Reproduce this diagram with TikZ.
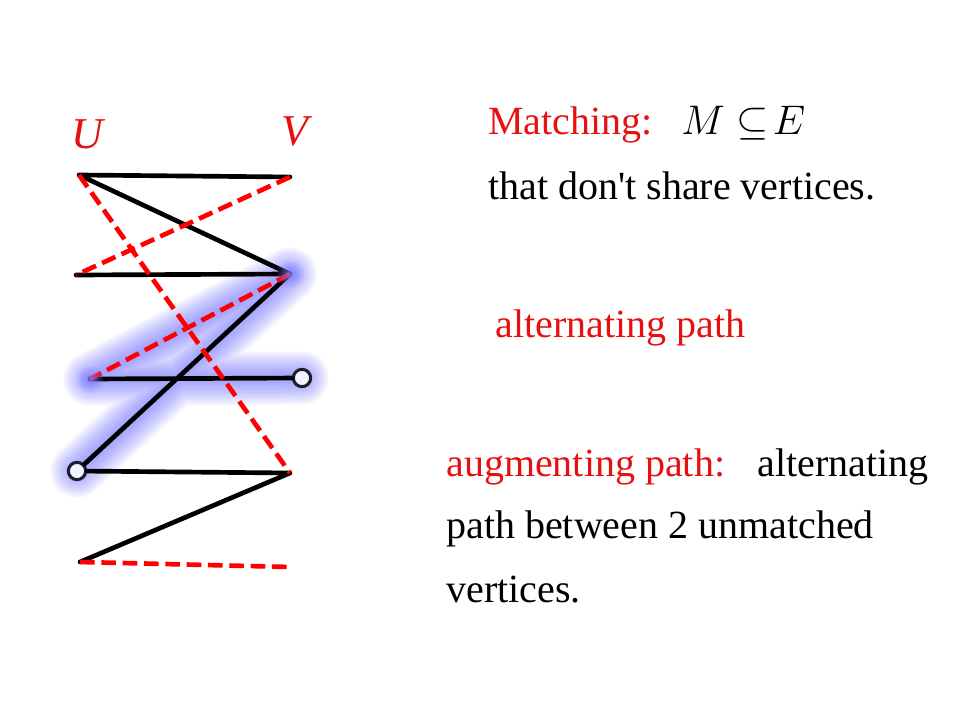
\RequirePackage{fix-cm}
\documentclass[tikz,border=0pt]{standalone}
\usepackage{amsmath,amssymb}
\usepackage{fontspec}
\setmainfont{Liberation Serif}
\usepackage{xcolor}
\usetikzlibrary{calc,fadings,backgrounds}
\definecolor{txtred}{RGB}{230,16,16}
\definecolor{glowblue}{RGB}{80,80,255}
\definecolor{vtxline}{RGB}{30,30,45}
\tikzfading[name=fuzzyglow, inner color=transparent!0, outer color=transparent!100]
\tikzset{
  plain/.style={line width=3.5pt,black,line cap=round},
  matched/.style={line width=3.5pt,red,dash pattern=on 11pt off 5pt},
  glow/.style={line width=#1,glowblue,opacity=0.055,line cap=round,line join=round},
  freevtx/.style={circle,draw=vtxline,line width=2.3pt,fill=blue!5,inner sep=0pt,minimum size=13pt},
  txt/.style={anchor=base west,inner sep=0pt,font=\fontsize{30}{36}\selectfont},
}

\begin{document}
\begin{tikzpicture}[x=0.75pt,y=-0.75pt]
        \useasboundingbox (0,0) rectangle (960,720);
        %頂点
        \coordinate (u1) at (79,175);  \coordinate (v1) at (290,177);
        \coordinate (u2) at (76,275);  \coordinate (v2) at (290,274);
        \coordinate (u3) at (90,379);  \node[freevtx] (v3) at (302,378) {};
        \node[freevtx] (u4) at (77,471) {}; \coordinate (v4) at (290,473);
        \coordinate (u5) at (80,562);  \coordinate (v5) at (290,567);
        %U, V
        \node[txt,txtred,font=\fontsize{33}{40}\selectfont\itshape] (labu) at (71,149) {U};
        \node[txt,txtred,font=\fontsize{33}{40}\selectfont\itshape] (labv) at (281,146) {V};
        %増加道の光
        \begin{pgfonlayer}{background}
        \foreach \w in {4,7,...,40} \draw[glow=\w pt] (v3.center)--(u3)--(v2)--(u4.center);
        \end{pgfonlayer}
        %マッチしていない辺
        \draw[plain] (u1)--(v1) (u1)--(v2) (u2)--(v2) (v2)--(u4) (u3)--(v3) (u4)--(v4) (v4)--(u5);
        %マッチング
        \draw[matched] (u1)--(v4);
        \draw[matched] (v1)--(u2);
        \draw[matched] (v2)--(u3);
        \draw[matched] (u5)--(v5);
        %折れ目の光
        \foreach \p in {u3,v2} \fill[glowblue!75!white,path fading=fuzzyglow,opacity=0.8] (\p) circle (11pt);
        %説明
        \node[txt,txtred] (match) at (488,135) {Matching:};
        \node[txt,font=\fontsize{31}{36}\selectfont] (msube) at (681,135) {$M\subseteq\!E$};
        \node[txt] (share) at (488,200) {that don\textquotesingle t share vertices.};
        \node[txt,txtred] (alt) at (495,337) {alternating path};
        \node[txt,txtred] (aug) at (446,476) {augmenting path:};
        \node[txt] (augalt) at (757,476) {alternating};
        \node[txt] (augbtw) at (446,538) {path between 2 unmatched};
        \node[txt] (augvtx) at (446,602) {vertices.};
    \end{tikzpicture}
\end{document}
